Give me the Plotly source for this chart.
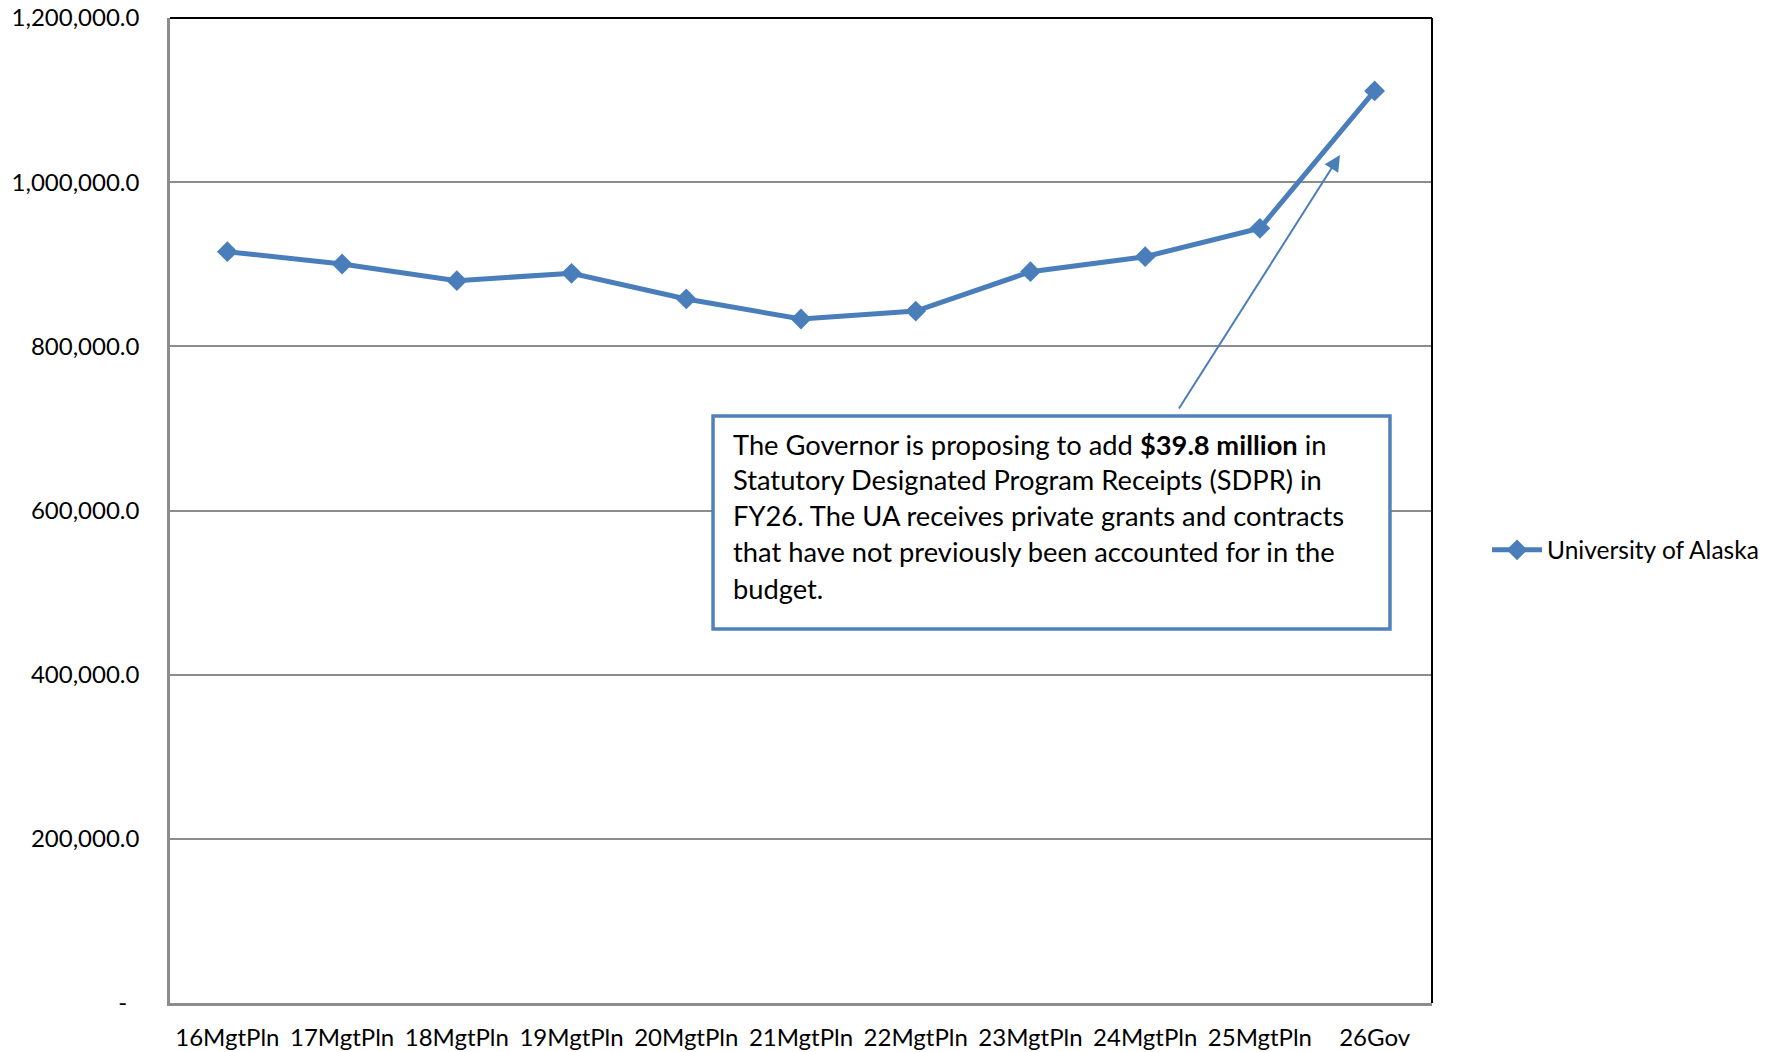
import plotly.graph_objects as go

categories = ["16MgtPln", "17MgtPln", "18MgtPln", "19MgtPln", "20MgtPln", "21MgtPln",
              "22MgtPln", "23MgtPln", "24MgtPln", "25MgtPln", "26Gov"]
ua_values = [915300, 900300, 880000, 889000, 857700, 833300, 843000, 890900, 909200, 943800, 1111100]
series_name = "University of Alaska"
y_tick_vals = [0, 200000, 400000, 600000, 800000, 1000000, 1200000]
y_tick_text = ["-\u00a0\u00a0", "200,000.0", "400,000.0", "600,000.0", "800,000.0", "1,000,000.0", "1,200,000.0"]
note_lines = [
    "The Governor is proposing to add <b>$39.8 million</b> in",
    "Statutory Designated Program Receipts (SDPR) in",
    "FY26. The UA receives private grants and contracts",
    "that have not previously been accounted for in the",
    "budget.",
]

FONT = "Lato"
BLUE = "#4A7EBB"
GRID = "#8C8C8C"

fig = go.Figure()
fig.add_trace(go.Scatter(
    x=categories, y=ua_values, name=series_name, mode="lines+markers",
    line=dict(color=BLUE, width=5),
    marker=dict(symbol="diamond", size=16, color=BLUE),
))

fig.update_layout(
    width=1776, height=1052,
    margin=dict(l=170, r=344, t=18, b=49, autoexpand=False),
    plot_bgcolor="white", paper_bgcolor="white",
    font=dict(family=FONT, size=24, color="black"),
    showlegend=True,
    legend=dict(x=1.0436, y=0.46, xanchor="left", yanchor="middle",
                font=dict(family=FONT, size=24.5, color="black"),
                itemwidth=50,
                bgcolor="rgba(0,0,0,0)", borderwidth=0),
    xaxis=dict(type="category", range=[-0.5, 10.5], showgrid=False,
               showline=True, linecolor=GRID, linewidth=2.5, ticks="",
               tickfont=dict(family=FONT, size=24), ticklabelstandoff=11,
               zeroline=False, fixedrange=True, automargin=False),
    yaxis=dict(range=[0, 1200000], tickvals=y_tick_vals, ticktext=y_tick_text,
               showgrid=True, gridcolor=GRID, gridwidth=1.5,
               showline=True, linecolor=GRID, linewidth=2.5, ticks="",
               tickfont=dict(family=FONT, size=24), ticklabelstandoff=23,
               zeroline=False, fixedrange=True, automargin=False),
)

# black top and right border of the plot area
fig.add_shape(type="line", xref="paper", yref="paper", x0=0, x1=1, y0=1, y1=1,
              line=dict(color="black", width=2))
fig.add_shape(type="line", xref="paper", yref="paper", x0=1, x1=1, y0=0, y1=1,
              line=dict(color="black", width=2))

# callout box
fig.add_shape(type="rect", xref="paper", yref="paper",
              x0=0.4303, x1=0.9667, y0=0.3797, y1=0.5959,
              line=dict(color="#4F81BD", width=3.5), fillcolor="white", layer="above")

line_y = [0.5670, 0.5314, 0.4949, 0.4583, 0.4208]
for txt, yy in zip(note_lines, line_y):
    fig.add_annotation(text=txt, xref="paper", yref="paper", x=0.4445, y=yy,
                       xanchor="left", yanchor="middle", showarrow=False, align="left",
                       font=dict(family=FONT, size=27.3, color="black"))

# arrow from box to the 26Gov increase
fig.add_annotation(text="", xref="paper", yref="paper", x=0.9271, y=0.8609,
                   ax=-162, ay=255, axref="pixel", ayref="pixel",
                   showarrow=True, arrowhead=2, arrowsize=1.6, arrowwidth=2,
                   arrowcolor=BLUE, standoff=0)

fig.write_html("out.html", config={"displayModeBar": False},
               post_script="document.body.style.margin='0';")
